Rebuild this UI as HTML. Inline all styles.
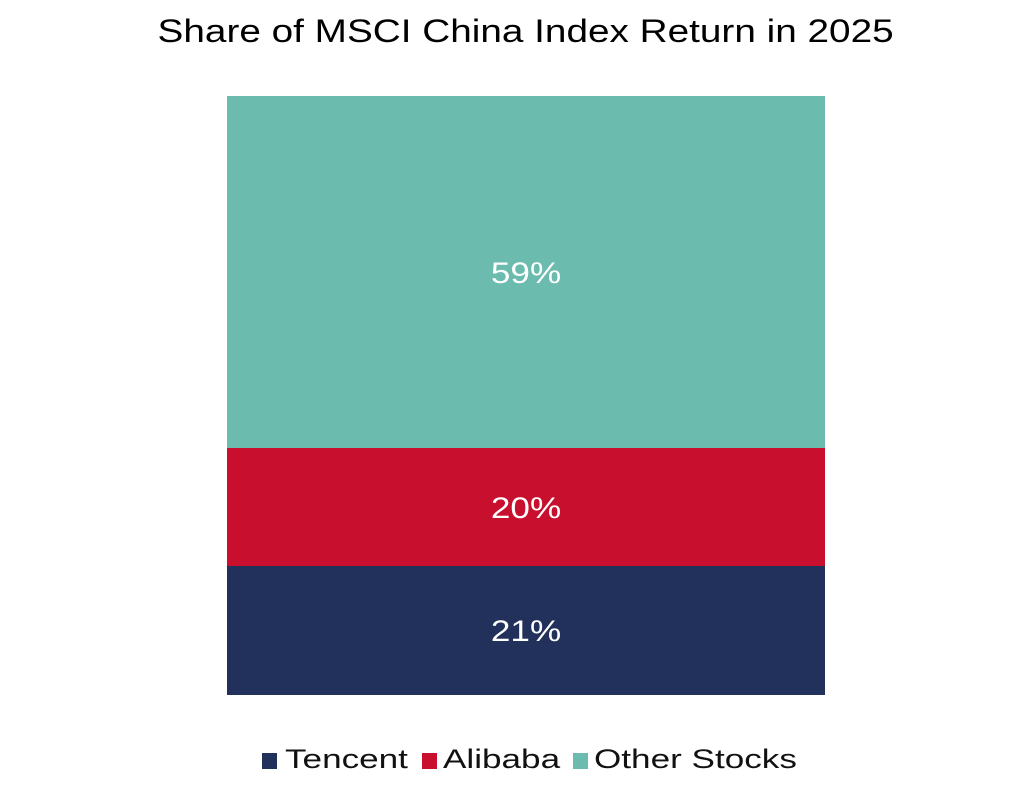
<!DOCTYPE html>
<html><head><style>
body{margin:0;width:1031px;height:805px;background:#fff;font-family:"Liberation Sans",sans-serif;position:relative;overflow:hidden}
.t{position:absolute;left:0;width:1051px;text-align:center;top:13px;font-size:32px;color:#000;transform:scaleX(1.21);transform-origin:525px 0}
.seg{position:absolute;left:227px;width:598px;color:#fff;font-size:30px;display:flex;align-items:center;justify-content:center}
.seg span{display:inline-block;transform:scaleX(1.17);margin-top:3px}
.sq{position:absolute;top:753px;width:15px;height:16px}
.lt{position:absolute;top:744px;font-size:27px;color:#111;white-space:nowrap;transform:scaleX(1.3);transform-origin:0 0}
</style></head><body>
<div class="t">Share of MSCI China Index Return in 2025</div>
<div class="seg" style="top:96px;height:352px;background:#6bbbae"><span>59%</span></div>
<div class="seg" style="top:448px;height:118px;background:#c8102e"><span>20%</span></div>
<div class="seg" style="top:566px;height:129px;background:#22315b"><span>21%</span></div>
<div class="sq" style="left:262px;background:#22315b"></div><div class="lt" style="left:285px">Tencent</div>
<div class="sq" style="left:422px;background:#c8102e"></div><div class="lt" style="left:443px">Alibaba</div>
<div class="sq" style="left:573px;background:#6bbbae"></div><div class="lt" style="left:594px">Other Stocks</div>
</body></html>
